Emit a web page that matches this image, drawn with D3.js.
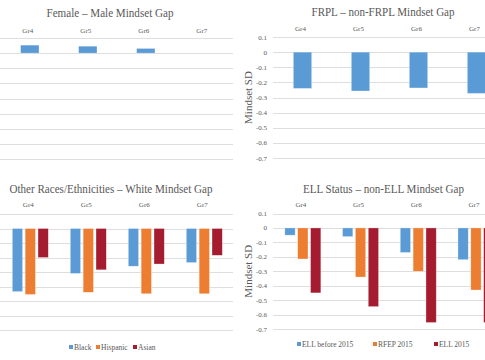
<!DOCTYPE html>
<html><head><meta charset="utf-8">
<script src="https://cdn.jsdelivr.net/npm/d3@7"></script>
<style>
html,body{margin:0;padding:0;background:#fff;}
svg{display:block;}
svg text{font-family:'Liberation Serif','Times New Roman','DejaVu Serif',serif;}
</style></head>
<body>
<svg id="c" width="485" height="360"></svg>
<script>
const grades = ["Gr4","Gr5","Gr6","Gr7"];
const yTicks = [0.1,0,-0.1,-0.2,-0.3,-0.4,-0.5,-0.6,-0.7];
const yTickLabels = ["0.1","0","-0.1","-0.2","-0.3","-0.4","-0.5","-0.6","-0.7"];

const genderGap = [0.053, 0.046, 0.031, null];
const frplGap = [-0.24, -0.257, -0.237, -0.273];

const raceSeries = ["Black","Hispanic","Asian"];
const raceBlack = [-0.435, -0.31, -0.26, -0.235];
const raceHispanic = [-0.455, -0.44, -0.45, -0.45];
const raceAsian = [-0.2, -0.285, -0.245, -0.185];

const ellSeries = ["ELL before 2015","RFEP 2015","ELL 2015"];
const ellBefore = [-0.05, -0.06, -0.17, -0.22];
const ellRfep = [-0.215, -0.34, -0.3, -0.43];
const ell2015 = [-0.45, -0.545, -0.655, -0.655];

const titles = ["Female \u2013 Male Mindset Gap","FRPL \u2013 non-FRPL Mindset Gap",
  "Other Races/Ethnicities \u2013 White Mindset Gap","ELL Status \u2013 non-ELL Mindset Gap"];
const yTitle = "Mindset SD";

const colors = ["#5B9BD5","#ED7D31","#A51C30"];
const txt = "#595959";
const FF = "Liberation Serif, Times New Roman, DejaVu Serif, serif";
const svg = d3.select("#c");

function panel(cfg){
  const g = svg.append("g").attr("font-family", FF);
  const x = d3.scaleBand().domain(grades).range([cfg.bx0, cfg.bx0 + 4*cfg.step]);
  const y = d3.scaleLinear().domain([0.1,-0.7]).range([cfg.yTop, cfg.yBot]);
  g.selectAll("line.grid").data(yTicks).enter().append("line")
    .attr("x1", cfg.gx0).attr("x2", cfg.gx1)
    .attr("y1", d=>Math.round(y(d))+0.5).attr("y2", d=>Math.round(y(d))+0.5)
    .attr("stroke","#dedede").attr("stroke-width",1);
  if(cfg.yAxis){
    g.selectAll("text.yt").data(yTicks).enter().append("text")
      .attr("x", cfg.gx0-6).attr("y", d=>y(d)+2.5)
      .attr("text-anchor","end").attr("font-size",7).attr("fill",txt).attr("font-family",FF)
      .text((d,i)=>yTickLabels[i]);
    g.append("text").attr("transform",`translate(${cfg.gx0-21},${(y(0.1)+y(-0.7))/2}) rotate(-90)`)
      .attr("text-anchor","middle").attr("font-size",11).attr("fill",txt).attr("font-family",FF).text(yTitle);
  }
  g.selectAll("text.gl").data(grades).enter().append("text")
    .attr("x", d=>x(d)+x.bandwidth()/2 - 2).attr("y", cfg.labelY)
    .attr("text-anchor","middle").attr("font-size",7).attr("fill",txt).attr("font-family",FF).text(d=>d);
  g.append("text").attr("x",cfg.tx).attr("y",cfg.ty).attr("text-anchor","middle")
    .attr("font-size",12.5).attr("fill",txt).attr("font-family",FF)
    .attr("textLength",cfg.tw).attr("lengthAdjust","spacingAndGlyphs").text(cfg.title);
  const n = cfg.series.length;
  const inner = d3.scaleBand().domain(d3.range(n)).range([0, cfg.clusterW]).paddingInner(cfg.innerPad);
  cfg.series.forEach((vals, si)=>{
    g.selectAll(null).data(grades.map((gr,i)=>({gr, v: vals[i]})).filter(d=>d.v!=null))
      .enter().append("rect")
      .attr("x", d=>x(d.gr)+x.bandwidth()/2 - cfg.clusterW/2 + inner(si))
      .attr("width", inner.bandwidth())
      .attr("y", d=>Math.min(y(0),y(d.v)))
      .attr("height", d=>Math.abs(y(d.v)-y(0)))
      .attr("fill", colors[si])
      .attr("stroke","#fff").attr("stroke-opacity",0.5).attr("stroke-width",0.6);
  });
  if(cfg.legend){
    cfg.legend.names.forEach((nm,i)=>{
      const lx = cfg.legend.xs[i];
      g.append("rect").attr("x",lx).attr("y",cfg.legend.y-5).attr("width",4).attr("height",4).attr("fill",colors[i]);
      g.append("text").attr("x",lx+5).attr("y",cfg.legend.y).attr("font-size",7.5).attr("fill",txt).attr("font-family",FF).text(nm);
    });
  }
}

panel({title:titles[0], tx:110, ty:17, tw:127, bx0:0.8, step:58, gx0:0, gx1:233,
  yTop:38, yBot:159, labelY:33, yAxis:false, series:[genderGap], clusterW:18.4, innerPad:0});
panel({title:titles[1], tx:383, ty:16, tw:143, bx0:273.5, step:58, gx0:273, gx1:485,
  yTop:37, yBot:158, labelY:31, yAxis:true, series:[frplGap], clusterW:18.4, innerPad:0});
panel({title:titles[2], tx:111, ty:193, tw:203, bx0:1.3, step:58, gx0:0, gx1:233,
  yTop:214, yBot:330, labelY:207, yAxis:false, series:[raceBlack,raceHispanic,raceAsian],
  clusterW:36, innerPad:0.2, legend:{names:raceSeries, xs:[69,96,133], y:350}});
panel({title:titles[3], tx:383.5, ty:193, tw:161, bx0:274, step:57.7, gx0:273, gx1:485,
  yTop:213.5, yBot:329, labelY:207, yAxis:true, series:[ellBefore,ellRfep,ell2015],
  clusterW:36, innerPad:0.2, legend:{names:ellSeries, xs:[297,373,434], y:347}});
</script>
</body></html>
